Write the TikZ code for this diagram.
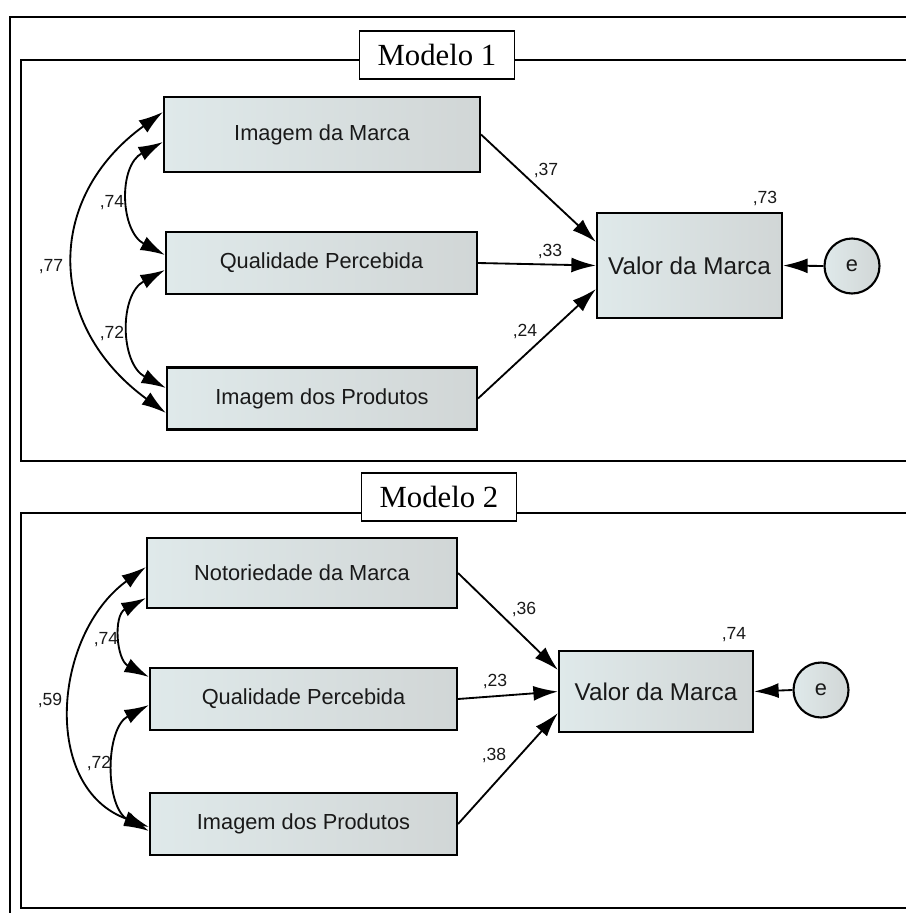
\documentclass[tikz,border=0pt]{standalone}
\usepackage{fontspec}
\setmainfont{Liberation Sans}
\newfontfamily\modelofont{Liberation Serif}
\usetikzlibrary{arrows.meta,positioning}

\definecolor{boxleft}{RGB}{223,233,234}
\definecolor{boxright}{RGB}{209,214,214}
\definecolor{inkgray}{RGB}{25,25,25}

\begin{document}
\begin{tikzpicture}[
    x=0.02cm, y=-0.02cm,
    font=\fontsize{12.4}{14}\selectfont,
    varbox/.style={draw=black, line width=1.2pt, left color=boxleft, right color=boxright, text=inkgray, inner sep=0pt},
    endbox/.style={varbox, font=\fontsize{13.8}{16}\selectfont},
    errnode/.style={circle, draw=black, line width=1.2pt, left color=boxleft, right color=boxright, minimum size=1.1cm, inner sep=0pt, text=inkgray},
    coef/.style={font=\fontsize{10}{12}\selectfont, text=inkgray, inner sep=0pt},
    titlebox/.style={draw=black, line width=0.9pt, fill=white, minimum width=3.1cm, minimum height=0.96cm, font=\modelofont\fontsize{17.5}{20}\selectfont},
    frameline/.style={line width=1.2pt},
    reg/.style={-{Latex[length=14pt,width=8.5pt]}, line width=1.05pt},
    cov/.style={{Latex[length=14pt,width=8.5pt]}-{Latex[length=14pt,width=8.5pt]}, line width=1.05pt}
]
\useasboundingbox (0,0) rectangle (906,913);

% molduras
\draw[line width=0.9pt] (906,17) -- (10,17) -- (10,913);
\draw[frameline] (906,60) -- (21,60) -- (21,461) -- (906,461);
\draw[frameline] (906,513) -- (21,513) -- (21,908) -- (906,908);

\node[titlebox] (mod1) at (437,55) {Modelo 1};
\node[titlebox] (mod2) at (439,497) {Modelo 2};

% Modelo 1
\node[varbox, minimum width=6.32cm, minimum height=1.5cm] (imA) at (322,134.5) {Imagem da Marca};
\node[varbox, minimum width=6.22cm, minimum height=1.24cm] (qpA) at (321.5,263) {Qualidade Percebida};
\node[varbox, minimum width=6.2cm, minimum height=1.24cm] (ipA) at (322,398.5) {Imagem dos Produtos};
\node[endbox, minimum width=3.7cm, minimum height=2.1cm] (vmA) at (689.5,265.5) {Valor da Marca};
\node[errnode] (eA) at (852,266) {e};

\draw[reg] (imA.east) -- ([yshift=0.47cm]vmA.west);
\draw[reg] (qpA.east) -- (vmA.west);
\draw[reg] (ipA.east) -- ([yshift=-0.47cm]vmA.west);
\draw[reg] (eA.west) -- (vmA.east);

\draw[cov] ([yshift=0.45cm]imA.west) to[out=216, in=144, looseness=1.25] ([yshift=-0.29cm]ipA.west);
\draw[cov] ([yshift=-0.15cm]imA.west) to[out=208, in=152, looseness=1.15] ([yshift=0.16cm]qpA.west);
\draw[cov] ([yshift=-0.14cm]qpA.west) to[out=208, in=152, looseness=1.13] ([yshift=0.21cm]ipA.west);

\node[coef] (cA37) at (546,170) {,37};
\node[coef] (cA33) at (550,251) {,33};
\node[coef] (cA24) at (525,331) {,24};
\node[coef] (cA73) at (765,198) {,73};
\node[coef] (cA74) at (112,203) {,74};
\node[coef] (cA72) at (112,333) {,72};
\node[coef] (cA77) at (51,267) {,77};

% Modelo 2
\node[varbox, minimum width=6.2cm, minimum height=1.4cm] (nmB) at (302,573) {Notoriedade da Marca};
\node[varbox, minimum width=6.14cm, minimum height=1.24cm] (qpB) at (303.5,699) {Qualidade Percebida};
\node[varbox, minimum width=6.14cm, minimum height=1.24cm] (ipB) at (303.5,824) {Imagem dos Produtos};
\node[endbox, minimum width=3.88cm, minimum height=1.62cm] (vmB) at (656,691.5) {Valor da Marca};
\node[errnode] (eB) at (821,690) {e};

\draw[reg] (nmB.east) -- ([yshift=0.43cm]vmB.west);
\draw[reg] (qpB.east) -- (vmB.west);
\draw[reg] (ipB.east) -- ([yshift=-0.43cm]vmB.west);
\draw[reg] (eB.west) -- (vmB.east);

\draw[cov] ([yshift=0.12cm]nmB.west) to[out=216, in=160, looseness=1.13] ([yshift=-0.06cm]ipB.west);
\draw[cov] ([yshift=-0.5cm]nmB.west) to[out=208, in=152, looseness=1.2] ([yshift=0.44cm]qpB.west);
\draw[cov] ([yshift=-0.12cm]qpB.west) to[out=208, in=152, looseness=1.02] ([yshift=-0.14cm]ipB.west);

\node[coef] (cB36) at (524,609) {,36};
\node[coef] (cB23) at (495,681) {,23};
\node[coef] (cB38) at (494,755) {,38};
\node[coef] (cB74) at (734,635) {,74};
\node[coef] (cB74l) at (106,640) {,74};
\node[coef] (cB72) at (99,763) {,72};
\node[coef] (cB59) at (50,700) {,59};

\end{tikzpicture}
\end{document}
